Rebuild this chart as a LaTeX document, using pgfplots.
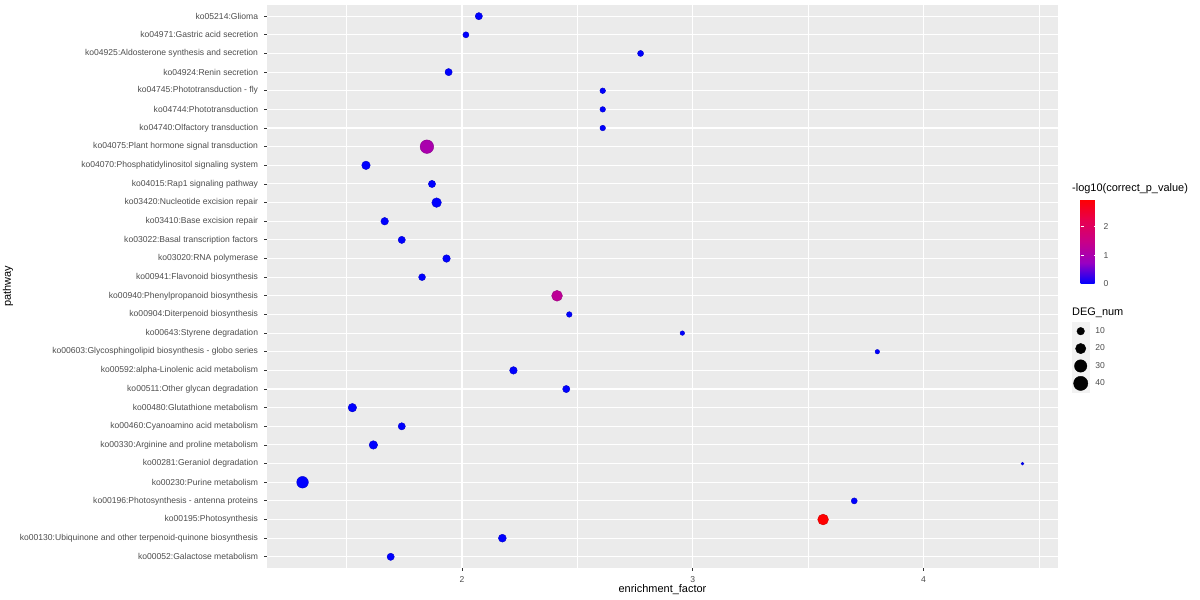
\documentclass[border=0pt]{standalone}
\usepackage{fontspec}
\setmainfont{Liberation Sans}
\usepackage{pgfplots}
\usepackage{pgfplotstable}
\pgfplotsset{compat=1.18}
\usetikzlibrary{calc}
\definecolor{panelbg}{HTML}{EBEBEB}
\definecolor{ticklab}{HTML}{4D4D4D}
\definecolor{tickcol}{HTML}{333333}
\definecolor{keybg}{HTML}{F2F2F2}

\pgfplotstableread{
y x deg p
1 1.691 9 0
2 2.175 11 0
3 3.565 22 2.95
4 3.700 6 0
5 1.309 26 0
6 4.429 1 0
7 1.616 13 0
8 1.739 9 0
9 1.525 13 0
10 2.452 9 0
11 2.223 10 0
12 3.800 3 0
13 2.955 3 0
14 2.465 5 0
15 2.412 22 1.30
16 1.827 8 0
17 1.933 10 0
18 1.739 9 0
19 1.665 10 0
20 1.890 17 0
21 1.870 9 0
22 1.584 13 0
23 1.848 36 1.00
24 2.610 5 0
25 2.610 5 0
26 2.610 5 0
27 1.942 9 0
28 2.774 6 0
29 2.017 6 0
30 2.073 9 0
}\datatable

\begin{document}
\begin{tikzpicture}
\useasboundingbox (-267bp,-32bp) rectangle (933bp,568bp);
\begin{axis}[
  at={(0,0)}, anchor=south west,
  scale only axis, width=791bp, height=563bp,
  xmin=1.155, xmax=4.583, ymin=0.4, ymax=30.6,
  clip=false,
  axis background/.style={fill=panelbg},
  axis line style={draw=none},
  xtick={2,3,4}, minor xtick={1.5,2.5,3.5,4.5},
  ytick={1,...,30},
  yticklabels={
    ko00052:Galactose metabolism,
    ko00130:Ubiquinone and other terpenoid-quinone biosynthesis,
    ko00195:Photosynthesis,
    ko00196:Photosynthesis - antenna proteins,
    ko00230:Purine metabolism,
    ko00281:Geraniol degradation,
    ko00330:Arginine and proline metabolism,
    ko00460:Cyanoamino acid metabolism,
    ko00480:Glutathione metabolism,
    ko00511:Other glycan degradation,
    ko00592:alpha-Linolenic acid metabolism,
    ko00603:Glycosphingolipid biosynthesis - globo series,
    ko00643:Styrene degradation,
    ko00904:Diterpenoid biosynthesis,
    ko00940:Phenylpropanoid biosynthesis,
    ko00941:Flavonoid biosynthesis,
    ko03020:RNA polymerase,
    ko03022:Basal transcription factors,
    ko03410:Base excision repair,
    ko03420:Nucleotide excision repair,
    ko04015:Rap1 signaling pathway,
    ko04070:Phosphatidylinositol signaling system,
    ko04075:Plant hormone signal transduction,
    ko04740:Olfactory transduction,
    ko04744:Phototransduction,
    ko04745:Phototransduction - fly,
    ko04924:Renin secretion,
    ko04925:Aldosterone synthesis and secretion,
    ko04971:Gastric acid secretion,
    ko05214:Glioma},
  grid=both,
  major grid style={white, line width=1.07bp},
  minor grid style={white, line width=0.53bp},
  tick align=outside,
  major tick length=2.75bp, minor tick length=0pt,
  tick style={tickcol, line width=0.8bp},
  xtick pos=bottom, ytick pos=left,
  /pgf/number format/assume math mode=true,
  ticklabel style={font=\fontsize{8.6}{10}\selectfont, text=ticklab},
  yticklabel style={inner sep=0pt, xshift=-6bp},
  xticklabel style={inner sep=0pt, yshift=-6bp},
  xlabel={enrichment\_factor},
  ylabel={pathway},
  label style={font=\fontsize{11}{13}\selectfont, text=black},
  xlabel style={at={(axis description cs:0.5,-0.0391)}, anchor=center},
  ylabel style={at={(axis description cs:-0.3274,0.5)}, anchor=center},
  colormap={ggbr}{rgb255=(0,0,255) rgb255=(153,0,194) rgb255=(200,0,136) rgb255=(231,0,79) rgb255=(255,0,0)},
  point meta min=0, point meta max=2.95,
  colorbar,
  colorbar style={
    at={($(parent axis.south east)+(14bp,284bp)$)}, anchor=south west,
    scale only axis, width=17bp, height=85bp,
    axis line style={draw=none},
    axis on top,
    ytick={0,1,2},
    ytick pos=both, yticklabel pos=right,
    tick align=inside, major tick length=3.4bp,
    ytick style={draw=white, line width=0.6bp},
    /pgf/number format/assume math mode=true,
    yticklabel style={font=\fontsize{8.6}{10}\selectfont, text=ticklab, inner sep=0pt, xshift=6bp, anchor=west},
  },
  legend style={at={(axis description cs:1.0177,0.4361)}, anchor=north west,
    draw=none, fill=none, inner sep=0pt, outer sep=0pt, row sep=0pt,
    column sep=6bp,
    font=\fontsize{8.6}{10}\selectfont, text=ticklab,
    nodes={inner sep=0pt}},
  legend cell align=left,
  legend image code/.code={\fill[keybg] (-8.5bp,-8.5bp) rectangle (8.5bp,8.5bp);
    \draw[#1] plot coordinates {(0bp,0bp)};},
]
\addplot[scatter, only marks, mark=*, forget plot,
  point meta=\thisrow{p},
  visualization depends on={(0.45+1.059*sqrt(\thisrow{deg})) \as \msize},
  scatter/@pre marker code/.append style={/tikz/mark size=\msize},
  ] table[x=x, y=y] {\datatable};

\addlegendimage{only marks, mark=*, black, mark size=3.80}
\addlegendentry{10}
\addlegendimage{only marks, mark=*, black, mark size=5.19}
\addlegendentry{20}
\addlegendimage{only marks, mark=*, black, mark size=6.25}
\addlegendentry{30}
\addlegendimage{only marks, mark=*, black, mark size=7.15}
\addlegendentry{40}

\node[anchor=west, inner sep=0pt, font=\fontsize{11}{13}\selectfont] at (axis description cs:1.0177,0.6732) {-log10(correct\_p\_value)};
\node[anchor=west, inner sep=0pt, font=\fontsize{11}{13}\selectfont] at (axis description cs:1.0177,0.4529) {DEG\_num};
\end{axis}
\end{tikzpicture}
\end{document}
